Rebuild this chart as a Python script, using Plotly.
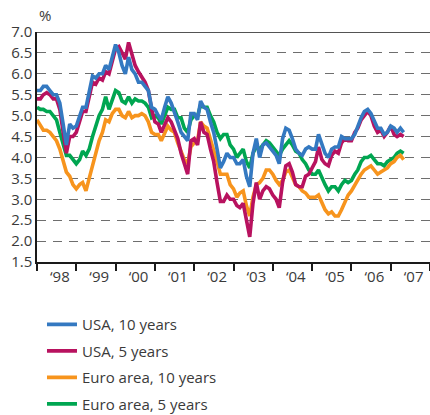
import pandas as pd
import plotly.graph_objects as go

# monthly observations, Jan 1998 - May 2007
months = pd.date_range("1998-01-01", "2007-05-01", freq="MS")

usa_10y = [
    5.6, 5.6, 5.7, 5.7, 5.6, 5.5, 5.5, 5.3, 4.8, 4.3, 4.8, 4.7,
    4.75, 5.0, 5.2, 5.2, 5.6, 5.95, 5.9, 6.0, 6.0, 6.2, 6.1, 6.4,
    6.7, 6.5, 6.2, 6.0, 6.4, 6.1, 6.0, 5.8, 5.8, 5.7, 5.6, 5.2,
    5.15, 5.0, 4.9, 5.2, 5.45, 5.3, 5.1, 4.85, 4.6, 4.5, 4.4, 5.05,
    5.05, 4.9, 5.35, 5.2, 5.15, 4.85, 4.6, 4.2, 3.75, 3.9, 4.1, 4.0,
    4.0, 3.85, 3.85, 3.95, 3.55, 3.3, 4.1, 4.45, 4.0, 4.3, 4.35, 4.25,
    4.15, 4.05, 3.85, 4.45, 4.7, 4.65, 4.45, 4.2, 4.1, 4.05, 4.2, 4.25,
    4.2, 4.2, 4.55, 4.3, 4.1, 4.0, 4.2, 4.25, 4.25, 4.5, 4.45, 4.45,
    4.45, 4.55, 4.75, 4.95, 5.1, 5.15, 5.05, 4.85, 4.7, 4.7, 4.55, 4.6,
    4.75, 4.7, 4.6, 4.7, 4.6,
]
usa_5y = [
    5.4, 5.4, 5.5, 5.55, 5.5, 5.4, 5.4, 5.15, 4.6, 4.1, 4.5, 4.5,
    4.6, 4.9, 5.1, 5.1, 5.5, 5.8, 5.75, 5.9, 5.85, 6.05, 6.0, 6.3,
    6.6, 6.65, 6.5, 6.35, 6.75, 6.45, 6.2, 6.05, 5.9, 5.8, 5.6, 5.15,
    4.85, 4.8, 4.6, 4.8, 4.95, 4.85, 4.65, 4.45, 4.1, 3.85, 3.6, 4.4,
    4.45, 4.3, 4.85, 4.6, 4.55, 4.2, 3.9, 3.4, 2.95, 2.95, 3.1, 3.0,
    3.0, 2.85, 2.8, 2.9, 2.55, 2.1, 2.9, 3.4, 3.0, 3.2, 3.3, 3.25,
    3.1, 3.0, 2.8, 3.4, 3.8, 3.85, 3.65, 3.35, 3.3, 3.3, 3.55, 3.6,
    3.75, 3.9, 4.25, 3.95, 3.85, 3.8, 4.05, 4.15, 4.1, 4.35, 4.45, 4.4,
    4.4, 4.6, 4.7, 4.9, 5.0, 5.1, 5.0, 4.75, 4.6, 4.65, 4.5, 4.6,
    4.75, 4.55, 4.5, 4.55, 4.5,
]
euro_10y = [
    4.9, 4.75, 4.65, 4.65, 4.6, 4.5, 4.4, 4.2, 3.9, 3.65, 3.55, 3.35,
    3.25, 3.35, 3.4, 3.2, 3.5, 3.8, 4.1, 4.4, 4.6, 4.9, 4.85, 5.05,
    5.15, 5.15, 5.0, 4.95, 5.1, 4.95, 5.0, 5.0, 5.05, 5.0, 4.85, 4.6,
    4.55, 4.55, 4.4, 4.6, 4.75, 4.65, 4.6, 4.35, 4.15, 3.95, 3.85, 4.25,
    4.35, 4.4, 4.85, 4.75, 4.7, 4.45, 4.2, 3.9, 3.6, 3.6, 3.6, 3.35,
    3.25, 3.05, 3.15, 3.2, 2.85, 2.6, 3.05, 3.35, 3.4, 3.5, 3.7, 3.7,
    3.6, 3.45, 3.35, 3.45, 3.65, 3.7, 3.55, 3.35, 3.3, 3.2, 3.15, 3.05,
    3.05, 3.05, 3.1, 2.9, 2.75, 2.65, 2.7, 2.6, 2.6, 2.75, 2.95, 3.1,
    3.2, 3.35, 3.45, 3.6, 3.7, 3.75, 3.8, 3.7, 3.6, 3.65, 3.7, 3.75,
    3.85, 3.9, 4.0, 4.05, 3.95,
]
euro_5y = [
    5.2, 5.15, 5.15, 5.1, 5.1, 5.0, 4.9, 4.6, 4.3, 4.05, 4.05, 3.95,
    3.85, 3.95, 4.15, 4.05, 4.2, 4.5, 4.75, 5.0, 5.15, 5.45, 5.15, 5.35,
    5.6, 5.55, 5.35, 5.3, 5.45, 5.3, 5.4, 5.35, 5.35, 5.3, 5.2, 4.95,
    5.0, 4.95, 4.8, 5.0, 5.2, 5.15, 5.15, 4.95, 4.95, 4.7, 4.6, 4.9,
    5.0, 5.0, 5.25, 5.2, 5.2, 5.0, 4.85, 4.6, 4.45, 4.55, 4.55, 4.3,
    4.2, 4.0, 4.1, 4.2, 3.9, 3.75, 4.1, 4.25, 4.2, 4.3, 4.4, 4.35,
    4.25, 4.15, 4.05, 4.2, 4.3, 4.4, 4.3, 4.15, 4.1, 3.95, 3.85, 3.7,
    3.6, 3.6, 3.7, 3.5, 3.35, 3.2, 3.3, 3.3, 3.2, 3.35, 3.45, 3.4,
    3.45, 3.6, 3.7, 3.9, 4.0, 4.0, 4.05, 3.95, 3.85, 3.85, 3.8, 3.9,
    3.95, 4.0, 4.1, 4.15, 4.1,
]

series_names = ["USA, 10 years", "USA, 5 years", "Euro area, 10 years", "Euro area, 5 years"]
series_values = [usa_10y, usa_5y, euro_10y, euro_5y]
series_colors = ["#3479c1", "#b8125f", "#f7941d", "#00a651"]

year_labels = ["\u201898", "\u201899", "\u201800", "\u201801", "\u201802",
               "\u201803", "\u201804", "\u201805", "\u201806", "\u201807"]
label_dates = pd.date_range("1998-07-02", periods=len(year_labels), freq="12MS") + pd.Timedelta(days=1)

y_ticks = [1.5, 2.0, 2.5, 3.0, 3.5, 4.0, 4.5, 5.0, 5.5, 6.0, 6.5, 7.0]

FONT = "Open Sans"
TXT = "#3a3a3a"

fig = go.Figure()
# draw order: bottom to top
for idx in [3, 2, 1, 0]:
    fig.add_trace(go.Scatter(
        x=months, y=series_values[idx], mode="lines",
        name=series_names[idx], legendgroup=series_names[idx], legendrank=idx + 1,
        line=dict(color=series_colors[idx], width=3.6),
    ))

fig.update_layout(
    width=430, height=415,
    margin=dict(l=37, r=0, t=32, b=153, autoexpand=False),
    paper_bgcolor="white", plot_bgcolor="white",
    font=dict(family=FONT, size=15, color=TXT),
    showlegend=True,
    legend=dict(
        x=0.0127, y=-0.2007, xanchor="left", yanchor="top",
        traceorder="grouped", tracegroupgap=4,
        font=dict(family=FONT, size=15, color=TXT),
        bgcolor="rgba(0,0,0,0)",
    ),
    xaxis=dict(
        type="date",
        range=["1998-01-01", "2008-01-01"],
        tickvals=list(label_dates), ticktext=year_labels,
        ticks="", showgrid=False,
        showline=True, linecolor="#1a1a1a", linewidth=1.5,
        tickfont=dict(family=FONT, size=15, color=TXT),
        minor=dict(ticks="outside", ticklen=7, tickcolor="#1a1a1a", tickwidth=1.5,
                   dtick="M12", tick0="1998-01-01", showgrid=False),
        zeroline=False,
    ),
    yaxis=dict(
        range=[1.5, 7.0], tickvals=y_ticks, tickformat=".1f",
        showgrid=True, gridcolor="#6e6e6e", gridwidth=1.4, griddash="9px,7px",
        showline=True, linecolor="#1a1a1a", linewidth=1.5,
        ticks="", tickfont=dict(family=FONT, size=15, color=TXT),
        zeroline=False,
    ),
    annotations=[dict(text="%", xref="paper", yref="paper", x=0.0, y=1.072,
                      xanchor="left", yanchor="middle", showarrow=False,
                      font=dict(family=FONT, size=15, color=TXT))],
    shapes=[dict(type="line", xref="paper", yref="y", x0=0, x1=1, y0=7.0, y1=7.0,
                 line=dict(color="#1a1a1a", width=1.5))],
)

# remove the browser's default page margin so the figure fills the window exactly
fig.write_html("out.html", config={"displayModeBar": False},
               post_script="document.body.style.margin='0';")
